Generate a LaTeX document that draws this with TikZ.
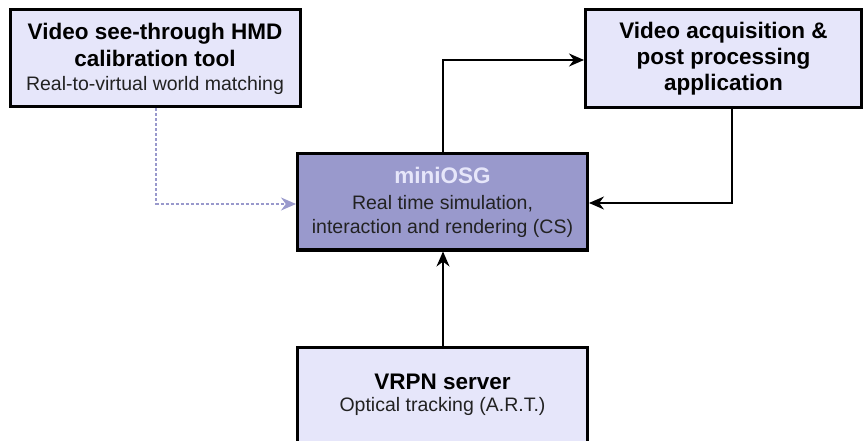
\documentclass[tikz,border=0pt]{standalone}
\usepackage{fontspec}
\setmainfont{Liberation Sans}
\usetikzlibrary{arrows.meta}
\definecolor{boxfill}{HTML}{E6E6FA}
\definecolor{osgfill}{HTML}{9999CC}
\definecolor{txtgray}{HTML}{222222}
\tikzset{
  box/.style={draw=black, line width=3pt, fill=boxfill, align=center, inner sep=0pt},
  osgbox/.style={box, fill=osgfill},
  conn/.style={draw=black, line width=1.5pt, -{Stealth[length=15pt,width=13pt]}},
  dconn/.style={draw=osgfill, line width=1.6pt, dash pattern=on 3pt off 2pt, -{Stealth[length=15pt,width=13pt]}},
  titlef/.style={font=\fontsize{22.5}{26}\selectfont\bfseries},
}
\newcommand{\subf}{\fontsize{19.5}{25}\selectfont\mdseries\color{txtgray}}
\begin{document}
\begin{tikzpicture}[x=1pt,y=-1pt]
\useasboundingbox (0,0) rectangle (863,441);
\node[box, minimum width=290pt, minimum height=97pt, titlef] (calib) at (155,58.5)
  {Video see-through HMD\\[1pt]calibration tool\\[-2pt]\subf Real-to-virtual world matching};
\node[box, minimum width=276pt, minimum height=98pt, titlef] (video) at (723.5,58.5)
  {Video acquisition \&\\post processing\\application};
\node[osgbox, minimum width=290pt, minimum height=96pt, titlef] (osg) at (442.5,202)
  {\color{boxfill}miniOSG\\[0pt]\subf Real time simulation,\\[-2pt]\subf interaction and rendering (CS)};
\node[box, minimum width=290pt, minimum height=96pt, titlef] (vrpn) at (442.5,395)
  {VRPN server\\[-4pt]\subf Optical tracking (A.R.T.)};
\coordinate (c1) at (443,60);
\coordinate (c2) at (732,203);
\coordinate (c3) at (156,204);
\draw[conn] (osg.north -| c1) -- (c1) -- (video.west |- c1);
\draw[conn] (video.south -| c2) -- (c2) -- (osg.east |- c2);
\draw[conn] (vrpn.north -| c1) -- (osg.south -| c1);
\draw[dconn] (calib.south -| c3) -- (c3) -- (osg.west |- c3);
\end{tikzpicture}
\end{document}
